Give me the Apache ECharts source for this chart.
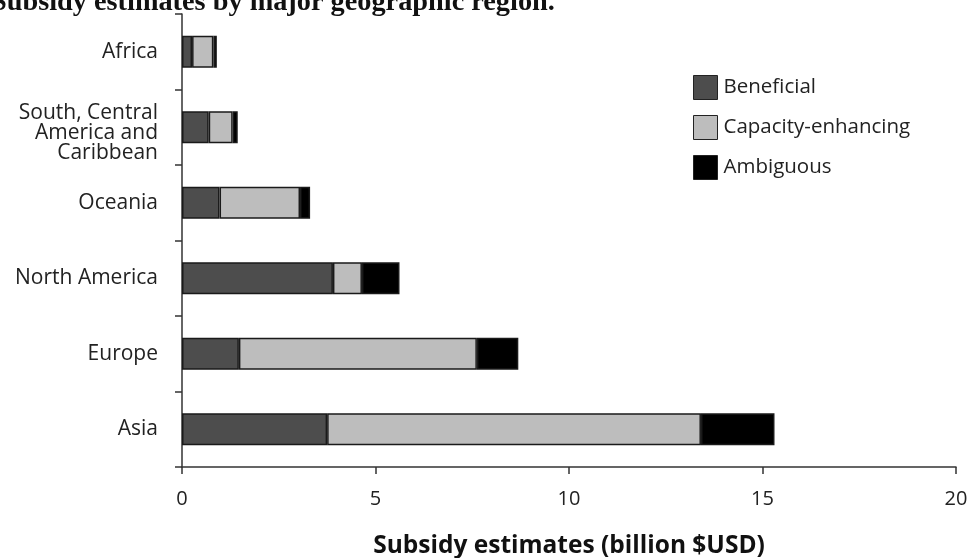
<!DOCTYPE html>
<html>
<head>
<meta charset="utf-8">
<script src="https://cdn.jsdelivr.net/npm/echarts@6/dist/echarts.min.js"></script>
<style>
html,body{margin:0;padding:0;background:#fff;}
#chart{width:969px;height:558px;}
</style>
</head>
<body>
<div id="chart"></div>
<script>
const categories = ['Africa', 'South, Central\nAmerica and\nCaribbean', 'Oceania', 'North America', 'Europe', 'Asia'];
const beneficial = [0.26, 0.69, 0.97, 3.90, 1.47, 3.75];
const capacityEnhancing = [0.55, 0.62, 2.08, 0.75, 6.15, 9.66];
const ambiguous = [0.09, 0.13, 0.26, 0.97, 1.07, 1.90];
const xTicks = [0, 5, 10, 15, 20];

const chart = echarts.init(document.getElementById('chart'));
const barStyle = (c) => ({ color: c, borderColor: '#1a1a1a', borderWidth: 1.5 });
const labelFont = { fontFamily: 'Open Sans', fontSize: 21, color: '#222', lineHeight: 20, align: 'right' };
chart.setOption({
  animation: false,
  title: {
    text: 'Subsidy estimates by major geographic region.',
    left: -14, top: -16,
    textStyle: { fontFamily: 'Liberation Serif', fontWeight: 'bold', fontSize: 28.3, color: '#111' }
  },
  legend: {
    orient: 'vertical',
    left: 688, top: 70,
    itemWidth: 24, itemHeight: 24, itemGap: 15,
    icon: 'rect',
    itemStyle: { borderColor: '#222', borderWidth: 1 },
    textStyle: { fontFamily: 'Open Sans', fontSize: 20.5, color: '#222', padding: [0, 0, 0, 1] },
    data: ['Beneficial', 'Capacity-enhancing', 'Ambiguous']
  },
  grid: { left: 182, right: 13, top: 14, bottom: 91, containLabel: false, outerBoundsMode: 'none' },
  xAxis: {
    type: 'value', min: xTicks[0], max: xTicks[xTicks.length - 1], interval: 5,
    name: 'Subsidy estimates (billion $USD)',
    nameLocation: 'middle', nameGap: 67,
    nameTextStyle: { fontFamily: 'Open Sans', fontWeight: 'bold', fontSize: 24.5, color: '#111' },
    axisLine: { show: true, lineStyle: { color: '#333', width: 1.5 } },
    axisTick: { show: true, length: 7, lineStyle: { color: '#333', width: 1.5 } },
    axisLabel: { fontFamily: 'Open Sans', fontSize: 20, color: '#222', margin: 22 },
    splitLine: { show: false }
  },
  yAxis: {
    type: 'category', data: categories, inverse: true,
    axisLine: { show: true, lineStyle: { color: '#333', width: 1.5 } },
    axisTick: { show: true, length: 7, lineStyle: { color: '#333', width: 1.5 } },
    axisLabel: Object.assign({}, labelFont, {
      margin: 24,
      formatter: (v) => v.indexOf('\n') >= 0
        ? '{gap| }\n' + v.split('\n').map(s => '{t|' + s + '}').join('\n')
        : v,
      rich: {
        gap: { fontSize: 1, lineHeight: 12, align: 'right' },
        t: Object.assign({}, labelFont)
      }
    })
  },
  series: [
    { name: 'Beneficial', type: 'bar', stack: 'a', barWidth: 32, data: beneficial, itemStyle: barStyle('#4d4d4d') },
    { name: 'Capacity-enhancing', type: 'bar', stack: 'a', barWidth: 32, data: capacityEnhancing, itemStyle: barStyle('#bdbdbd') },
    { name: 'Ambiguous', type: 'bar', stack: 'a', barWidth: 32, data: ambiguous, itemStyle: barStyle('#000000') }
  ]
});
</script>
</body>
</html>
